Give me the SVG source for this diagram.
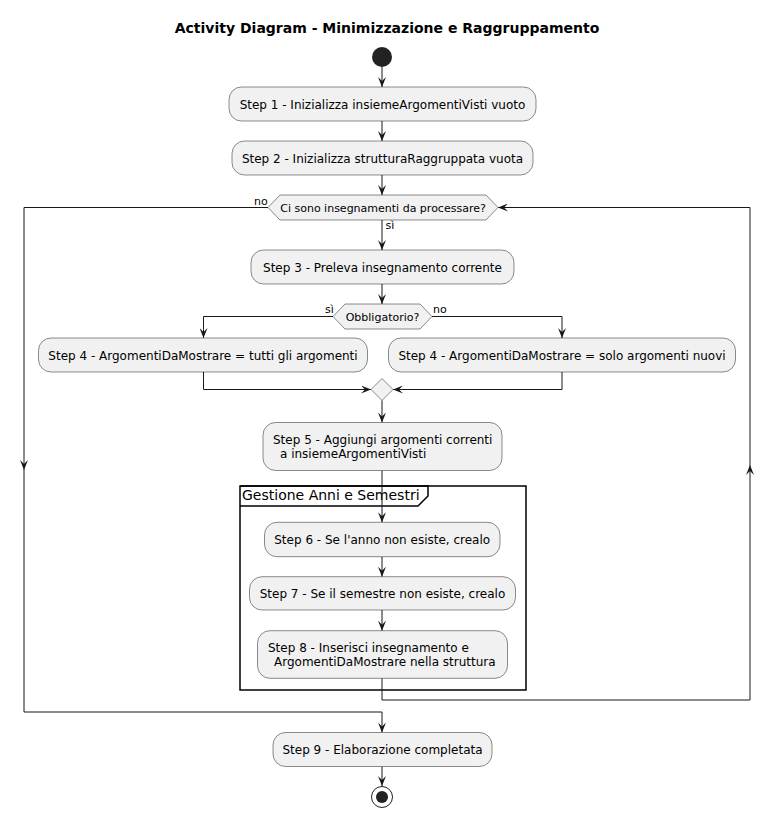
<svg xmlns="http://www.w3.org/2000/svg" width="774" height="818" viewBox="0 0 774 818">
<style>
  .box{fill:#F1F1F1;stroke:#181818;stroke-width:0.5}
  .t{font-family:"DejaVu Sans",Verdana,sans-serif;font-size:12px;fill:#000}
  .c{text-anchor:middle}
  .s{font-family:"DejaVu Sans",Verdana,sans-serif;font-size:11px;fill:#000}
  .ln{fill:none;stroke:#181818;stroke-width:1}
  .title{font-family:"DejaVu Sans",Verdana,sans-serif;font-size:14px;font-weight:bold;text-anchor:middle;fill:#000}
</style>
<defs>
  <marker id="arr" viewBox="0 0 10 8" refX="10" refY="4" markerWidth="10" markerHeight="8" markerUnits="userSpaceOnUse" orient="auto">
    <path d="M0,0 L10,4 L0,8 L4,4 Z" fill="#181818"/>
  </marker>
</defs>
<rect width="774" height="818" fill="#FFFFFF"/>
<text class="title" x="387" y="33">Activity Diagram - Minimizzazione e Raggruppamento</text>

<g id="frame">
  <rect x="240" y="486" width="286" height="204" fill="none" stroke="#000" stroke-width="1.5"/>
  <path d="M240,486 H428 V496 L418,506 H240" fill="none" stroke="#000" stroke-width="1.5"/>
  <text x="242" y="500" style="font-family:'DejaVu Sans',Verdana,sans-serif;font-size:14px">Gestione Anni e Semestri</text>
</g>

<g id="connectors">
  <path class="ln" d="M382,67 V87" marker-end="url(#arr)"/>
  <path class="ln" d="M382,121 V141" marker-end="url(#arr)"/>
  <path class="ln" d="M382,175 V195" marker-end="url(#arr)"/>
  <path class="ln" d="M382,220 V250" marker-end="url(#arr)"/>
  <path class="ln" d="M382,284 V304" marker-end="url(#arr)"/>
  <path class="ln" d="M333,316.5 H203.5 V338" marker-end="url(#arr)"/>
  <path class="ln" d="M432,316.5 H562 V338" marker-end="url(#arr)"/>
  <path class="ln" d="M203.5,372 V389.5 H371" marker-end="url(#arr)"/>
  <path class="ln" d="M562,372 V389.5 H393" marker-end="url(#arr)"/>
  <path class="ln" d="M382,400.5 V422.5" marker-end="url(#arr)"/>
  <path class="ln" d="M382,470.5 V522.3" marker-end="url(#arr)"/>
  <path class="ln" d="M382,556.7 V576.7" marker-end="url(#arr)"/>
  <path class="ln" d="M382,610 V630.7" marker-end="url(#arr)"/>
  <path class="ln" d="M382,678.3 V700 H750 V465" marker-end="url(#arr)"/>
  <path class="ln" d="M750,465 V207.5 H498" marker-end="url(#arr)"/>
  <path class="ln" d="M268,207.5 H24 V470" marker-end="url(#arr)"/>
  <path class="ln" d="M24,470 V712 H382 V732.5" marker-end="url(#arr)"/>
  <path class="ln" d="M382,766.5 V786" marker-end="url(#arr)"/>
  <text class="s" x="254" y="205">no</text>
  <text class="s" x="385.5" y="229">sì</text>
  <text class="s" x="325" y="313">sì</text>
  <text class="s" x="433" y="313">no</text>
</g>

<g id="start"><circle cx="382" cy="57" r="10" fill="#222222"/></g>

<g id="step1">
  <rect class="box" x="229" y="87" width="307" height="34" rx="12.5"/>
  <text class="t c" x="382.5" y="108.5">Step 1 - Inizializza insiemeArgomentiVisti vuoto</text>
</g>
<g id="step2">
  <rect class="box" x="232" y="141" width="301" height="34" rx="12.5"/>
  <text class="t c" x="382.5" y="162.5">Step 2 - Inizializza strutturaRaggruppata vuota</text>
</g>
<g id="loop">
  <polygon class="box" points="268,207.5 280,195 486,195 498,207.5 486,220 280,220"/>
  <text class="s c" x="383" y="211.5">Ci sono insegnamenti da processare?</text>
</g>
<g id="step3">
  <rect class="box" x="251" y="250" width="263" height="34" rx="12.5"/>
  <text class="t c" x="382.5" y="271.5">Step 3 - Preleva insegnamento corrente</text>
</g>
<g id="obbligatorio">
  <polygon class="box" points="333,316.5 345,304 420,304 432,316.5 420,329 345,329"/>
  <text class="s c" x="382.5" y="320.5">Obbligatorio?</text>
</g>
<g id="step4a">
  <rect class="box" x="38.5" y="338" width="329" height="34" rx="12.5"/>
  <text class="t c" x="203" y="359.5">Step 4 - ArgomentiDaMostrare = tutti gli argomenti</text>
</g>
<g id="step4b">
  <rect class="box" x="388.5" y="338" width="347" height="34" rx="12.5"/>
  <text class="t c" x="562" y="359.5">Step 4 - ArgomentiDaMostrare = solo argomenti nuovi</text>
</g>
<g id="merge">
  <polygon class="box" points="382,378.5 393,389.5 382,400.5 371,389.5"/>
</g>
<g id="step5">
  <rect class="box" x="263" y="422.5" width="239" height="48" rx="12.5"/>
  <text class="t" x="273" y="444">Step 5 - Aggiungi argomenti correnti</text>
  <text class="t" x="280" y="458">a insiemeArgomentiVisti</text>
</g>
<g id="step6">
  <rect class="box" x="264.5" y="522.3" width="235.5" height="34.4" rx="12.5"/>
  <text class="t c" x="382.2" y="544">Step 6 - Se l'anno non esiste, crealo</text>
</g>
<g id="step7">
  <rect class="box" x="249.5" y="576.7" width="266" height="33.3" rx="12.5"/>
  <text class="t c" x="382.5" y="597.8">Step 7 - Se il semestre non esiste, crealo</text>
</g>
<g id="step8">
  <rect class="box" x="257.5" y="630.7" width="250" height="47.6" rx="12.5"/>
  <text class="t" x="268" y="651.5">Step 8 - Inserisci insegnamento e</text>
  <text class="t" x="274" y="665.5">ArgomentiDaMostrare nella struttura</text>
</g>
<g id="step9">
  <rect class="box" x="273" y="732.5" width="219" height="34" rx="12.5"/>
  <text class="t c" x="382.5" y="754">Step 9 - Elaborazione completata</text>
</g>
<g id="end">
  <circle cx="382" cy="797" r="10.5" fill="none" stroke="#222222" stroke-width="1"/>
  <circle cx="382" cy="797" r="6" fill="#222222"/>
</g>
</svg>
